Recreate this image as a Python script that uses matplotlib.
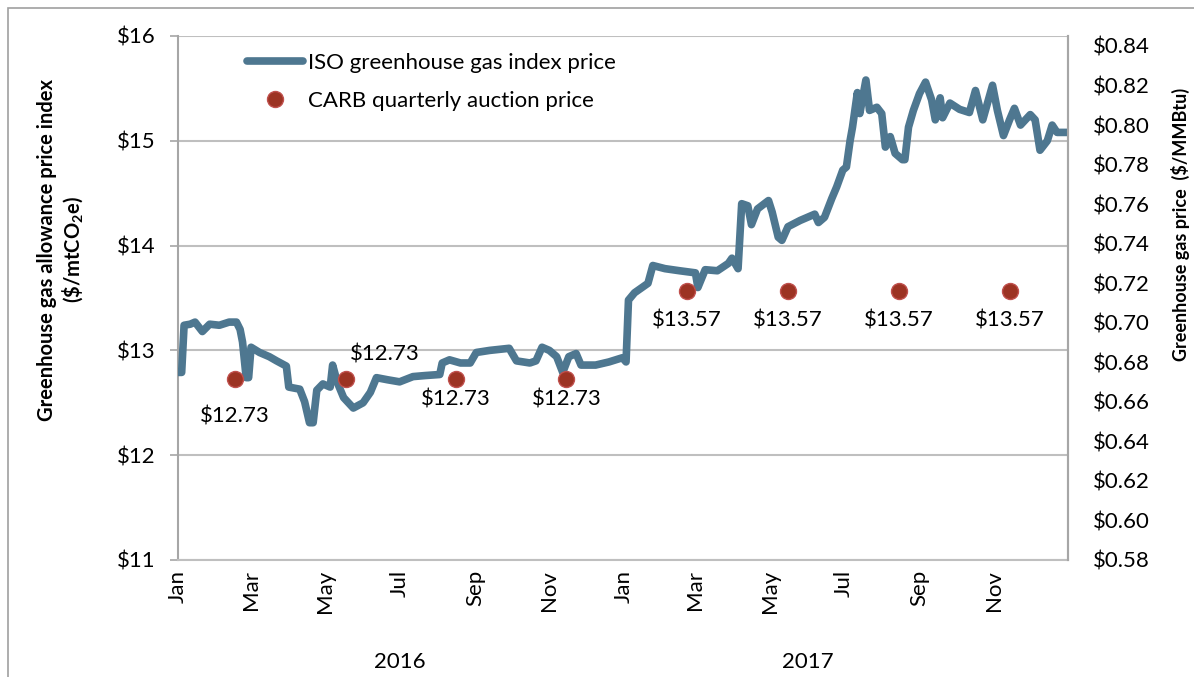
import matplotlib
matplotlib.use("Agg")

import matplotlib.pyplot as plt
import matplotlib.dates as mdates
import matplotlib.patches as mpatches
import pandas as pd

plt.rcParams['font.family'] = ['Lato', 'DejaVu Sans']
plt.rcParams['mathtext.fontset'] = 'custom'
plt.rcParams['mathtext.rm'] = 'Lato'
plt.rcParams['mathtext.bf'] = 'Lato:bold'

# Precio índice ISO
fechas_indice = [
    "2016-01-01", "2016-01-04", "2016-01-06", "2016-01-11", "2016-01-15", "2016-01-21",
    "2016-01-27", "2016-02-04", "2016-02-12", "2016-02-18", "2016-02-21", "2016-02-23",
    "2016-02-26", "2016-02-28", "2016-03-01", "2016-03-08", "2016-03-16", "2016-03-22",
    "2016-03-30", "2016-04-01", "2016-04-10", "2016-04-14", "2016-04-18", "2016-04-21",
    "2016-04-24", "2016-04-29", "2016-05-05", "2016-05-07", "2016-05-11", "2016-05-16",
    "2016-05-24", "2016-06-01", "2016-06-07", "2016-06-12", "2016-06-21", "2016-07-01",
    "2016-07-12", "2016-07-22", "2016-08-03", "2016-08-05", "2016-08-11", "2016-08-20",
    "2016-08-28", "2016-09-02", "2016-09-13", "2016-09-29", "2016-10-05", "2016-10-16",
    "2016-10-21", "2016-10-26", "2016-11-01", "2016-11-07", "2016-11-12", "2016-11-17",
    "2016-11-23", "2016-11-27", "2016-12-09", "2016-12-20", "2016-12-31",
    "2017-01-03", "2017-01-05", "2017-01-10", "2017-01-21", "2017-01-25", "2017-02-04",
    "2017-02-16", "2017-03-01", "2017-03-03", "2017-03-09", "2017-03-19", "2017-03-28",
    "2017-03-31", "2017-04-05", "2017-04-08", "2017-04-13", "2017-04-16", "2017-04-21",
    "2017-04-30", "2017-05-03", "2017-05-08", "2017-05-11", "2017-05-16", "2017-05-26",
    "2017-06-07", "2017-06-10", "2017-06-15", "2017-06-21", "2017-06-25", "2017-06-30",
    "2017-07-03", "2017-07-06", "2017-07-08", "2017-07-12", "2017-07-14", "2017-07-19",
    "2017-07-22", "2017-07-28", "2017-08-01", "2017-08-04", "2017-08-08", "2017-08-12",
    "2017-08-18", "2017-08-20", "2017-08-23", "2017-08-27", "2017-09-01", "2017-09-06",
    "2017-09-11", "2017-09-14", "2017-09-18", "2017-09-20", "2017-09-26", "2017-10-04",
    "2017-10-12", "2017-10-17", "2017-10-23", "2017-10-31", "2017-11-04", "2017-11-09",
    "2017-11-14", "2017-11-18", "2017-11-23", "2017-12-01", "2017-12-05", "2017-12-09",
    "2017-12-15", "2017-12-19", "2017-12-23", "2017-12-31",
]
precio_indice = [
    12.79, 12.79, 13.24, 13.25, 13.27, 13.18,
    13.25, 13.24, 13.27, 13.27, 13.20, 13.08,
    12.74, 12.74, 13.03, 12.98, 12.94, 12.90,
    12.85, 12.65, 12.63, 12.51, 12.31, 12.31,
    12.62, 12.68, 12.65, 12.86, 12.69, 12.55,
    12.45, 12.50, 12.60, 12.74, 12.72, 12.70,
    12.75, 12.76, 12.77, 12.88, 12.91, 12.88,
    12.88, 12.98, 13.00, 13.02, 12.90, 12.88,
    12.90, 13.03, 13.00, 12.94, 12.79, 12.94,
    12.97, 12.86, 12.86, 12.89, 12.93,
    12.89, 13.48, 13.55, 13.64, 13.81, 13.78,
    13.76, 13.74, 13.60, 13.77, 13.76, 13.83,
    13.88, 13.78, 14.40, 14.38, 14.20, 14.35,
    14.43, 14.32, 14.08, 14.05, 14.18, 14.24,
    14.30, 14.22, 14.27, 14.45, 14.56, 14.72,
    14.75, 15.00, 15.13, 15.46, 15.26, 15.58,
    15.29, 15.32, 15.26, 14.94, 15.04, 14.88,
    14.82, 14.82, 15.13, 15.29, 15.45, 15.56,
    15.39, 15.20, 15.41, 15.22, 15.36, 15.30,
    15.27, 15.48, 15.20, 15.53, 15.29, 15.05,
    15.20, 15.31, 15.15, 15.25, 15.20, 14.91,
    15.00, 15.15, 15.08, 15.08,
]

# Subastas trimestrales CARB
fechas_subasta = ["2016-02-17", "2016-05-18", "2016-08-16", "2016-11-15",
                  "2017-02-22", "2017-05-16", "2017-08-15", "2017-11-14"]
precio_subasta = [12.73, 12.73, 12.73, 12.73, 13.57, 13.57, 13.57, 13.57]

meses_ticks = ["2016-01-01", "2016-03-01", "2016-05-01", "2016-07-01", "2016-09-01",
               "2016-11-01", "2017-01-01", "2017-03-01", "2017-05-01", "2017-07-01",
               "2017-09-01", "2017-11-01"]
anios = ["2016", "2017"]

x_indice = pd.to_datetime(fechas_indice)
x_subasta = pd.to_datetime(fechas_subasta)

color_linea = "#4E7790"
color_punto = "#9C3323"
gris = "#A6A6A6"
fs = 16

fig = plt.figure(figsize=(11.94, 6.77), dpi=100)
ax = fig.add_axes([178 / 1194, 1 - 560 / 677, 890 / 1194, 524 / 677])

# Borde de la figura
fig.patches.append(mpatches.Rectangle((8 / 1194, -0.05), 1.1, 1 - 8 / 677 + 0.05,
                                      transform=fig.transFigure, fill=False,
                                      edgecolor="#A0A0A0", linewidth=1.2))

ax.plot(x_indice, precio_indice, color=color_linea, linewidth=5.5, solid_capstyle="round",
        solid_joinstyle="round", label="ISO greenhouse gas index price", zorder=3)
ax.plot(x_subasta, precio_subasta, linestyle="none", marker="o", markersize=11.5,
        markerfacecolor=color_punto, markeredgecolor="#C0504D", markeredgewidth=1,
        label="CARB quarterly auction price", zorder=4)

# Etiquetas de las subastas (desplazamiento en píxeles)
desplazamientos = [(0, -38, "center"), (4, 24, "left"),
                   (0, -21, "center"), (0, -21, "center"),
                   (0, -30, "center"), (0, -30, "center"),
                   (0, -30, "center"), (0, -30, "center")]
for xd, yv, (dx, dy, ha) in zip(x_subasta, precio_subasta, desplazamientos):
    ax.annotate(f"${yv:.2f}", (xd, yv), xytext=(dx * 0.72, dy * 0.72),
                textcoords="offset points", ha=ha, va="center", fontsize=fs, zorder=5)

ax.set_xlim(pd.Timestamp("2016-01-01"), pd.Timestamp("2018-01-01"))
ax.set_ylim(11, 16)
ax.set_yticks([11, 12, 13, 14, 15, 16])
ax.set_yticklabels([f"${v}" for v in range(11, 17)])
ax.set_xticks(pd.to_datetime(meses_ticks))
ax.xaxis.set_major_formatter(mdates.DateFormatter("%b"))
ax.tick_params(axis="x", length=0, pad=7, labelsize=fs, labelrotation=90)
ax.tick_params(axis="y", length=6, width=1.2, color=gris, pad=10, labelsize=fs)
for lbl in ax.get_xticklabels():
    lbl.set_va("top")

ax.grid(axis="y", color="#BFBFBF", linewidth=1.5)
ax.set_axisbelow(True)
ax.spines["top"].set_visible(False)
ax.spines["left"].set_color(gris)
ax.spines["left"].set_linewidth(1.5)
ax.spines["bottom"].set_color("#BFBFBF")
ax.spines["bottom"].set_linewidth(1.5)
ax.spines["right"].set_color(gris)
ax.spines["right"].set_linewidth(1.5)

ax2 = ax.twinx()
ax2.set_ylim(0.58, 0.58 + 0.26 * 524 / 514)
ax2.set_yticks([0.58 + 0.02 * i for i in range(14)])
ax2.set_yticklabels([f"${0.58 + 0.02 * i:.2f}" for i in range(14)])
ax2.tick_params(axis="y", length=0, pad=18, labelsize=fs)
for lado in ["top", "left", "bottom"]:
    ax2.spines[lado].set_visible(False)
ax2.spines["right"].set_color(gris)
ax2.spines["right"].set_linewidth(1.5)

leg = ax.legend(loc="upper left", bbox_to_anchor=(0.06, 0.997), frameon=False,
                fontsize=fs, handlelength=2.5, handletextpad=0.25, labelspacing=0.8,
                borderaxespad=0.3)

fig.text(47 / 1194, 1 - 250 / 677, "Greenhouse gas allowance price index",
         rotation=90, ha="center", va="center", fontsize=14.5, fontweight="bold")
fig.text(73 / 1194, 1 - 250 / 677, r"(\$/mtCO$_\mathbf{2}$e)",
         rotation=90, ha="center", va="center", fontsize=14.5, fontweight="bold")
fig.text(1180 / 1194, 1 - 224 / 677, "Greenhouse gas price  ($/MMBtu)",
         rotation=90, ha="center", va="center", fontsize=13, fontweight="bold")

fig.text(400 / 1194, 1 - 662 / 677, anios[0], ha="center", va="center", fontsize=fs)
fig.text(808 / 1194, 1 - 662 / 677, anios[1], ha="center", va="center", fontsize=fs)

fig.savefig("out.png", dpi=100)
